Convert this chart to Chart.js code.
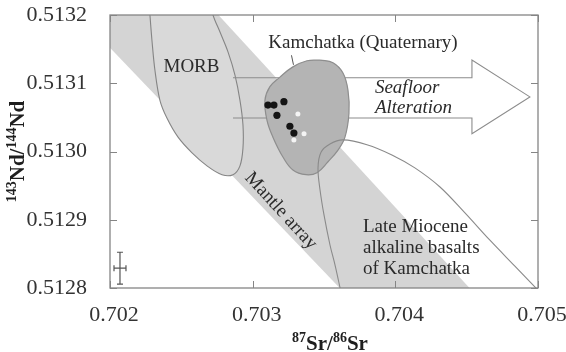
<!DOCTYPE html>
<html>
<head>
<meta charset="utf-8">
<script src="https://cdn.jsdelivr.net/npm/chart.js@4.4.1/dist/chart.umd.min.js"></script>
<style>
  html, body { margin: 0; padding: 0; background: #ffffff; }
  #wrap { width: 566px; height: 352px; }
</style>
</head>
<body>
<div id="wrap"><canvas id="c" width="566" height="352"></canvas></div>
<script>
// ---- Axes -------------------------------------------------------------
const xTicks = [0.702, 0.703, 0.704, 0.705];           // 87Sr/86Sr
const yTicks = [0.5128, 0.5129, 0.5130, 0.5131, 0.5132]; // 143Nd/144Nd

// ---- Kamchatka (Quaternary) samples ------------------------------------
const kamSrFilled = [0.703107, 0.703149, 0.703219, 0.703170, 0.703261, 0.703289];
const kamNdFilled = [0.513068, 0.513068, 0.513073, 0.513053, 0.513037, 0.513027];
const kamSrOpen   = [0.703317, 0.703360, 0.703289];
const kamNdOpen   = [0.513055, 0.513026, 0.513017];

// ---- Fields ------------------------------------------------------------
// Mantle array band
const mantleSr = [0.70178, 0.70276, 0.70452, 0.70361];
const mantleNd = [0.51320, 0.51320, 0.51280, 0.51280];

// MORB field
const morbSr = [0.702273, 0.702280, 0.702294, 0.702315, 0.702350, 0.702399, 0.702477,
                0.702575, 0.702680, 0.702785, 0.702862, 0.702911, 0.702932, 0.702932,
                0.702911, 0.702876, 0.702827, 0.702771, 0.702722, 0.702701];
const morbNd = [0.513222, 0.513200, 0.513163, 0.513119, 0.513075, 0.513049, 0.513021,
                0.512998, 0.512979, 0.512966, 0.512966, 0.512979, 0.513005, 0.513039,
                0.513075, 0.513112, 0.513146, 0.513175, 0.513200, 0.513222];

// Kamchatka (Quaternary) field
const kamFieldSr = [0.703472, 0.703563, 0.703633, 0.703668, 0.703675, 0.703647, 0.703598,
                    0.703528, 0.703451, 0.703374, 0.703282, 0.703212, 0.703142, 0.703100,
                    0.703086, 0.703121, 0.703191, 0.703282, 0.703381];
const kamFieldNd = [0.513134, 0.513130, 0.513115, 0.513090, 0.513056, 0.513021, 0.513002,
                    0.512985, 0.512969, 0.512966, 0.512973, 0.512992, 0.513021, 0.513046,
                    0.513075, 0.513095, 0.513109, 0.513124, 0.513133];

// Late Miocene alkaline basalts of Kamchatka
const mioceneSr = [0.703619, 0.703577, 0.703542, 0.703500, 0.703472, 0.703458, 0.703479,
                   0.703542, 0.703633, 0.703801, 0.703976, 0.704137, 0.704313, 0.704488,
                   0.704663, 0.704838, 0.705013];
const mioceneNd = [0.512794, 0.512834, 0.512863, 0.512907, 0.512944, 0.512976, 0.512999,
                   0.513011, 0.513017, 0.513010, 0.512995, 0.512976, 0.512948, 0.512910,
                   0.512870, 0.512832, 0.512794];

// Seafloor alteration arrow
const arrowSr = [0.702862, 0.704537, 0.704537, 0.704943, 0.704537, 0.704537, 0.702862];
const arrowNd = [0.513108, 0.513108, 0.513134, 0.513080, 0.513026, 0.513049, 0.513049];

// Typical analytical uncertainty
const errSr = [0.70207];
const errNd = [0.512829];
const errSrHalf = [0.000042];
const errNdHalf = [0.0000234];

// ---- Text placed in data space ----------------------------------------
const notes = [
  { text: 'MORB',                   sr: 0.702571, nd: 0.513124, align: 'center', style: '' },
  { text: 'Kamchatka (Quaternary)', sr: 0.703773, nd: 0.513159, align: 'center', style: '' },
  { text: 'Seafloor',               sr: 0.703857, nd: 0.513093, align: 'left',   style: 'italic ' },
  { text: 'Alteration',             sr: 0.703857, nd: 0.513064, align: 'left',   style: 'italic ' },
  { text: 'Late Miocene',           sr: 0.703773, nd: 0.512889, align: 'left',   style: '' },
  { text: 'alkaline basalts',       sr: 0.703773, nd: 0.512859, align: 'left',   style: '' },
  { text: 'of Kamchatka',           sr: 0.703773, nd: 0.512828, align: 'left',   style: '' }
];
const mantleLabel = { text: 'Mantle array', sr: 0.703198, nd: 0.512913 };
const leaderSr = [0.703272, 0.703286];
const leaderNd = [0.513141, 0.513127];

const SERIF = '"Liberation Serif", "Times New Roman", serif';
const pts = (xs, ys) => xs.map((x, i) => ({ x: x, y: ys[i] }));
const loop = (xs, ys) => { const p = pts(xs, ys); p.push(p[0]); return p; };

// Frame, inward ticks, error cross and text
const decor = {
  id: 'decor',
  afterDatasetsDraw(chart) {
    const ctx = chart.ctx;
    const xs = chart.scales.x, ys = chart.scales.y;
    const a = chart.chartArea;
    ctx.save();

    // leader from label to field
    ctx.strokeStyle = '#555';
    ctx.lineWidth = 1;
    ctx.beginPath();
    ctx.moveTo(xs.getPixelForValue(leaderSr[0]), ys.getPixelForValue(leaderNd[0]));
    ctx.lineTo(xs.getPixelForValue(leaderSr[1]), ys.getPixelForValue(leaderNd[1]));
    ctx.stroke();

    // frame
    ctx.strokeStyle = '#858585';
    ctx.lineWidth = 1.3;
    ctx.strokeRect(a.left, a.top, a.right - a.left, a.bottom - a.top);

    // inward ticks on all four sides
    const tl = 7;
    ctx.lineWidth = 1;
    ctx.beginPath();
    xTicks.forEach(v => {
      const px = Math.round(xs.getPixelForValue(v)) + 0.5;
      ctx.moveTo(px, a.bottom); ctx.lineTo(px, a.bottom - tl);
      ctx.moveTo(px, a.top);    ctx.lineTo(px, a.top + tl);
    });
    yTicks.forEach(v => {
      const py = Math.round(ys.getPixelForValue(v)) + 0.5;
      ctx.moveTo(a.left, py);  ctx.lineTo(a.left + tl, py);
      ctx.moveTo(a.right, py); ctx.lineTo(a.right - tl, py);
    });
    ctx.stroke();

    // error cross
    ctx.strokeStyle = '#555';
    ctx.lineWidth = 1.2;
    errSr.forEach((sr, i) => {
      const cx = xs.getPixelForValue(sr), cy = ys.getPixelForValue(errNd[i]);
      const x0 = xs.getPixelForValue(sr - errSrHalf[i]), x1 = xs.getPixelForValue(sr + errSrHalf[i]);
      const y0 = ys.getPixelForValue(errNd[i] + errNdHalf[i]), y1 = ys.getPixelForValue(errNd[i] - errNdHalf[i]);
      ctx.beginPath();
      ctx.moveTo(cx, y0); ctx.lineTo(cx, y1);
      ctx.moveTo(x0, cy); ctx.lineTo(x1, cy);
      ctx.moveTo(cx - 3, y0); ctx.lineTo(cx + 3, y0);
      ctx.moveTo(cx - 3, y1); ctx.lineTo(cx + 3, y1);
      ctx.moveTo(x0, cy - 3); ctx.lineTo(x0, cy + 3);
      ctx.moveTo(x1, cy - 3); ctx.lineTo(x1, cy + 3);
      ctx.stroke();
    });

    // annotations
    ctx.fillStyle = '#2a2a2a';
    ctx.textBaseline = 'middle';
    notes.forEach(n => {
      ctx.font = n.style + '19px ' + SERIF;
      ctx.textAlign = n.align;
      ctx.fillText(n.text, xs.getPixelForValue(n.sr), ys.getPixelForValue(n.nd));
    });
    ctx.save();
    ctx.translate(xs.getPixelForValue(mantleLabel.sr), ys.getPixelForValue(mantleLabel.nd));
    ctx.rotate(47.5 * Math.PI / 180);
    ctx.font = '19px ' + SERIF;
    ctx.textAlign = 'center';
    ctx.fillText(mantleLabel.text, 0, 0);
    ctx.restore();

    ctx.restore();
  },
  afterDraw(chart) {
    const ctx = chart.ctx;
    const a = chart.chartArea;
    const big = 'bold 21px ' + SERIF, small = 'bold 14px ' + SERIF;
    const drawParts = (parts, cx, cy) => {
      let w = 0;
      parts.forEach(p => { ctx.font = p[1] ? small : big; w += ctx.measureText(p[0]).width; });
      let x = cx - w / 2;
      parts.forEach(p => {
        ctx.font = p[1] ? small : big;
        ctx.fillText(p[0], x, p[1] ? cy - 7 : cy);
        x += ctx.measureText(p[0]).width;
      });
    };
    ctx.save();
    ctx.fillStyle = '#1e1e1e';
    ctx.textAlign = 'left';
    ctx.textBaseline = 'middle';
    // x title
    drawParts([['87', 1], ['Sr/', 0], ['86', 1], ['Sr', 0]], (a.left + a.right) / 2 + 6, 345);
    // y title
    ctx.translate(19, (a.top + a.bottom) / 2);
    ctx.rotate(-Math.PI / 2);
    drawParts([['143', 1], ['Nd/', 0], ['144', 1], ['Nd', 0]], 0, 0);
    ctx.restore();
  }
};

const fieldLine = { showLine: true, pointRadius: 0, pointHoverRadius: 0 };

new Chart(document.getElementById('c'), {
  type: 'scatter',
  data: {
    datasets: [
      Object.assign({}, fieldLine, {
        label: 'Mantle array', data: loop(mantleSr, mantleNd), order: 9,
        borderWidth: 0, borderColor: 'rgba(0,0,0,0)', backgroundColor: '#d4d4d4',
        fill: 'shape', tension: 0
      }),
      Object.assign({}, fieldLine, {
        label: 'MORB', data: pts(morbSr, morbNd), order: 8,
        borderWidth: 1.1, borderColor: '#858585', backgroundColor: '#d9d9d9',
        fill: 'shape', tension: 0.35
      }),
      Object.assign({}, fieldLine, {
        label: 'Seafloor alteration', data: pts(arrowSr, arrowNd), order: 7,
        borderWidth: 1.1, borderColor: '#8c8c8c', fill: false, tension: 0
      }),
      Object.assign({}, fieldLine, {
        label: 'Kamchatka (Quaternary)', data: loop(kamFieldSr, kamFieldNd), order: 6,
        borderWidth: 1.2, borderColor: '#8e8e8e', backgroundColor: '#b4b4b4',
        fill: 'shape', tension: 0.4
      }),
      Object.assign({}, fieldLine, {
        label: 'Late Miocene alkaline basalts', data: pts(mioceneSr, mioceneNd), order: 5,
        borderWidth: 1.1, borderColor: '#8a8a8a', fill: false, tension: 0.35
      }),
      {
        label: 'Kamchatka filled', data: pts(kamSrFilled, kamNdFilled), order: 2,
        pointRadius: 3.6, pointBackgroundColor: '#141414', pointBorderWidth: 0, showLine: false
      },
      {
        label: 'Kamchatka open', data: pts(kamSrOpen, kamNdOpen), order: 1,
        pointRadius: 2.5, pointBackgroundColor: '#f4f4f4', pointBorderWidth: 0, showLine: false
      }
    ]
  },
  options: {
    responsive: false,
    animation: false,
    events: [],
    layout: { padding: { top: 15, right: 28, left: 0, bottom: 0 } },
    plugins: { legend: { display: false }, tooltip: { enabled: false } },
    scales: {
      x: {
        type: 'linear', min: 0.702, max: 0.705,
        afterBuildTicks: s => { s.ticks = xTicks.map(v => ({ value: v })); },
        afterFit: s => { s.height = 64; s.paddingLeft = 0; s.paddingRight = 0; },
        grid: { display: false }, border: { display: false },
        ticks: {
          padding: 6, labelOffset: 4, color: '#333',
          font: { family: SERIF, size: 22 },
          callback: v => Number(v).toFixed(3)
        }
      },
      y: {
        type: 'linear', min: 0.5128, max: 0.5132,
        afterBuildTicks: s => { s.ticks = yTicks.map(v => ({ value: v })); },
        afterFit: s => { s.width = 110; s.paddingTop = 0; s.paddingBottom = 0; },
        grid: { display: false }, border: { display: false },
        ticks: {
          padding: 15, color: '#333',
          font: { family: SERIF, size: 22 },
          callback: v => Number(v).toFixed(4)
        }
      }
    }
  },
  plugins: [decor]
});
</script>
</body>
</html>
